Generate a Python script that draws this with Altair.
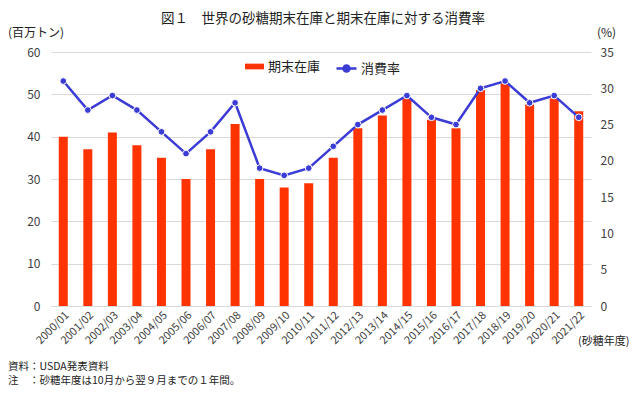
import altair as alt
import pandas as pd

years = ["2000/01", "2001/02", "2002/03", "2003/04", "2004/05", "2005/06",
         "2006/07", "2007/08", "2008/09", "2009/10", "2010/11", "2011/12",
         "2012/13", "2013/14", "2014/15", "2015/16", "2016/17", "2017/18",
         "2018/19", "2019/20", "2020/21", "2021/22"]
stocks = [40, 37, 41, 38, 35, 30, 37, 43, 30, 28, 29, 35,
          42, 45, 49, 44, 42, 51, 52.6, 47.6, 49, 46]
ratio = [31, 27, 29, 27, 24, 21, 24, 28, 19, 18, 19, 22,
         25, 27, 29, 26, 25, 30, 31, 28, 29, 26]

left_ticks = [0, 10, 20, 30, 40, 50, 60]
right_ticks = [0, 5, 10, 15, 20, 25, 30, 35]

df = pd.DataFrame({"year": years, "stock": stocks, "ratio": ratio})

FONT = "Noto Sans CJK JP"
RED = "#ff3300"
BLUE = "#3b3bd6"
TXT = "#404040"

xenc = alt.X("year:N", sort=years, title=None,
             scale=alt.Scale(paddingInner=0.62, paddingOuter=0.31),
             axis=alt.Axis(labelAngle=-45, labelFontSize=11, labelColor=TXT,
                           labelFont=FONT, ticks=False, domainColor="#d9d9d9",
                           labelPadding=3))

right_axis = alt.Axis(values=right_ticks, orient="right", domain=False, ticks=False,
                      grid=False, labelFontSize=12, labelColor=TXT,
                      labelFont=FONT, labelPadding=9)

bars = alt.Chart(df).mark_bar(size=9).encode(
    x=xenc,
    y=alt.Y("stock:Q", title=None,
            scale=alt.Scale(domain=[0, 60]),
            axis=alt.Axis(values=left_ticks, orient="left", domain=False, ticks=False,
                          gridColor="#d9d9d9", labelFontSize=12, labelColor=TXT,
                          labelFont=FONT, labelPadding=11)),
    fill=alt.Fill("s:N", scale=alt.Scale(domain=["期末在庫"], range=[RED]),
                  legend=alt.Legend(title=None, orient="none", legendX=194, legendY=5,
                                    symbolType="M-1,-0.3H1V0.3H-1Z", symbolSize=361,
                                    labelFontSize=13, labelFont=FONT, labelColor="#222",
                                    symbolStrokeWidth=0)),
).transform_calculate(s="'期末在庫'")

line = alt.Chart(df).mark_line(strokeWidth=2.5).encode(
    x=alt.X("year:N", sort=years),
    y=alt.Y("ratio:Q", title=None, scale=alt.Scale(domain=[0, 35]), axis=right_axis),
    stroke=alt.Stroke("r:N", scale=alt.Scale(domain=["消費率"], range=[BLUE]),
                      legend=alt.Legend(title=None, orient="none", legendX=284, legendY=5,
                                        symbolType="M-1,0H1M0.3,0A0.3,0.3,0,1,1,-0.3,0A0.3,0.3,0,1,1,0.3,0",
                                        symbolSize=400, symbolFillColor=BLUE,
                                        symbolStrokeWidth=2.5, labelOffset=3,
                                        labelFontSize=13, labelFont=FONT, labelColor="#222")),
).transform_calculate(r="'消費率'")

points = alt.Chart(df).mark_point(filled=True, size=45, color=BLUE, stroke="white",
                                  strokeWidth=1, opacity=1).encode(
    x=alt.X("year:N", sort=years),
    y=alt.Y("ratio:Q", title=None, scale=alt.Scale(domain=[0, 35]), axis=right_axis),
)

one = alt.Data(values=[{}])

def note(text, x, y, size=11, align="left"):
    return alt.Chart(one).mark_text(font=FONT, fontSize=size, color="#222",
                                    align=align, baseline="middle").encode(
        x=alt.value(x), y=alt.value(y), text=alt.value(text))

texts = [
    note("図１　世界の砂糖期末在庫と期末在庫に対する消費率", 272, -33, 13.5, "center"),
    note("(百万トン)", -43, -19, 12),
    note("(%)", 546, -19, 12),
    note("(砂糖年度)", 527, 290, 11),
    note("資料：USDA発表資料", -43, 315, 10.5),
    note("注　：砂糖年度は10月から翌９月までの１年間。", -43, 329, 10.5),
]

chart = alt.layer(bars, alt.layer(line, points), *texts).resolve_scale(
    y="independent"
).properties(
    width=540, height=254,
    autosize=alt.AutoSizeParams(type="none"),
    padding={"left": 43, "top": 44, "right": 41, "bottom": 82},
).configure_view(stroke=None).configure_legend(labelLimit=0)

chart.save("out.html", embed_options={"renderer": "svg", "actions": False})
